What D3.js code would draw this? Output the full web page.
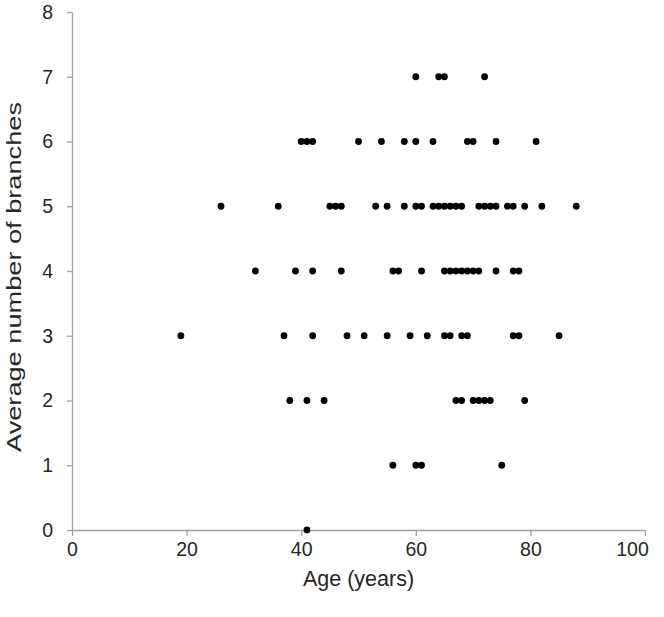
<!DOCTYPE html>
<html>
<head>
<meta charset="utf-8">
<script src="https://cdn.jsdelivr.net/npm/d3@7"></script>
<style>
  body { margin: 0; background: #fff; }
  text { font-family: "Liberation Sans", Arial, sans-serif; fill: #262626; }
</style>
</head>
<body>
<div class="canvas"></div>
<script>
// ages per branch count
const branches0 = [41];
const branches1 = [56, 60, 61, 75];
const branches2 = [38, 41, 44, 67, 68, 70, 71, 72, 73, 79];
const branches3 = [19, 37, 42, 48, 51, 55, 59, 62, 65, 66, 68, 69, 77, 78, 85];
const branches4 = [32, 39, 42, 47, 56, 57, 61, 65, 66, 67, 68, 69, 70, 71, 74, 77, 78];
const branches5 = [26, 36, 45, 46, 47, 53, 55, 58, 60, 61, 63, 64, 65, 66, 67, 68, 71, 72, 73, 74, 76, 77, 79, 82, 88];
const branches6 = [40, 41, 42, 50, 54, 58, 60, 63, 69, 70, 74, 81];
const branches7 = [60, 64, 65, 72];

const xTicks = [0, 20, 40, 60, 80, 100];
const yTicks = [0, 1, 2, 3, 4, 5, 6, 7, 8];

const groups = [branches0, branches1, branches2, branches3, branches4, branches5, branches6, branches7];
const data = [];
groups.forEach((ages, n) => ages.forEach((age) => data.push({ age: age, branches: n })));

const dims = { width: 664, height: 617 };
const plot = { left: 72, right: 645, top: 12, bottom: 530 };

const svg = d3
  .select(".canvas")
  .append("svg")
  .attr("width", dims.width)
  .attr("height", dims.height);

const x = d3.scaleLinear().domain([0, 100]).range([plot.left, plot.right]);
const y = d3.scaleLinear().domain([0, 8]).range([plot.bottom, plot.top]);

const axisColor = "#a0a0a0";

// x axis
const xAxis = svg
  .append("g")
  .attr("transform", `translate(0, ${plot.bottom})`)
  .call(d3.axisBottom(x).tickValues(xTicks).tickSize(6).tickPadding(6).tickSizeOuter(0));

// y axis
const yAxis = svg
  .append("g")
  .attr("transform", `translate(${plot.left}, 0)`)
  .call(d3.axisLeft(y).tickValues(yTicks).tickSize(5).tickPadding(14).tickSizeOuter(0));

[xAxis, yAxis].forEach((g) => {
  g.select(".domain").attr("stroke", axisColor).attr("stroke-width", 1.3);
  g.selectAll(".tick line").attr("stroke", axisColor).attr("stroke-width", 1.3);
  g.selectAll(".tick text")
    .attr("font-size", 19.5)
    .attr("fill", "#262626")
    .style("font-family", '"Liberation Sans", Arial, sans-serif');
});

// last label is pulled in so it stays on the page
xAxis.selectAll(".tick text").filter((d) => d === 100).attr("dx", -13);

// titles
svg
  .append("text")
  .attr("x", (plot.left + plot.right) / 2)
  .attr("y", 586)
  .attr("text-anchor", "middle")
  .attr("font-size", 21.5)
  .text("Age (years)");

// the source picture is stretched vertically, textLength mimics that
svg
  .append("text")
  .attr("transform", `translate(21, 277) rotate(-90)`)
  .attr("text-anchor", "middle")
  .attr("font-size", 21)
  .attr("textLength", 350)
  .attr("lengthAdjust", "spacingAndGlyphs")
  .text("Average number of branches");

// points
svg
  .append("g")
  .selectAll("circle")
  .data(data)
  .enter()
  .append("circle")
  .attr("cx", (d) => x(d.age))
  .attr("cy", (d) => y(d.branches))
  .attr("r", 3.4)
  .attr("fill", "#000");
</script>
</body>
</html>
